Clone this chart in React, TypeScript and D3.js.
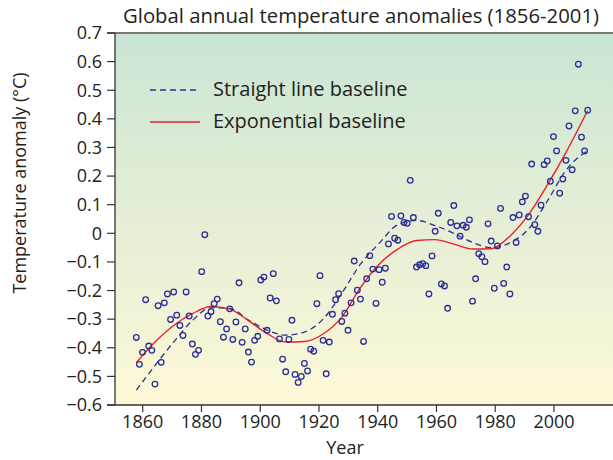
import { useEffect, useRef } from 'react'
import * as d3 from 'd3'

// annual global temperature anomalies, 1856-2001 (deg C)
const firstYear = 1856
const anomalies = [
  -0.364, -0.458, -0.416, -0.232, -0.394, -0.409, -0.527, -0.253, -0.451, -0.243,
  -0.212, -0.301, -0.205, -0.286, -0.322, -0.357, -0.205, -0.289, -0.387, -0.423,
  -0.409, -0.134, -0.005, -0.289, -0.274, -0.246, -0.230, -0.309, -0.363, -0.334,
  -0.264, -0.371, -0.310, -0.173, -0.381, -0.334, -0.415, -0.450, -0.374, -0.360,
  -0.163, -0.153, -0.339, -0.226, -0.141, -0.236, -0.369, -0.440, -0.484, -0.371,
  -0.304, -0.493, -0.521, -0.500, -0.455, -0.481, -0.405, -0.412, -0.246, -0.148,
  -0.374, -0.491, -0.380, -0.283, -0.232, -0.211, -0.308, -0.279, -0.339, -0.243,
  -0.097, -0.199, -0.230, -0.378, -0.159, -0.078, -0.125, -0.245, -0.127, -0.171,
  -0.122, -0.037, 0.059, -0.017, -0.024, 0.061, 0.038, 0.035, 0.185, 0.055,
  -0.118, -0.110, -0.106, -0.113, -0.212, -0.079, 0.007, 0.070, -0.177, -0.184,
  -0.262, 0.038, 0.097, 0.026, -0.010, 0.028, 0.021, 0.047, -0.237, -0.159,
  -0.071, -0.082, -0.099, 0.033, -0.027, -0.192, -0.044, 0.087, -0.175, -0.118,
  -0.212, 0.055, -0.032, 0.064, 0.110, 0.130, 0.058, 0.242, 0.030, 0.007,
  0.098, 0.240, 0.253, 0.182, 0.338, 0.288, 0.140, 0.190, 0.255, 0.375,
  0.222, 0.428, 0.591, 0.336, 0.288, 0.430,
]

const curveYears = [1856, 1862, 1868, 1874, 1880, 1886, 1892, 1898, 1904, 1910, 1916, 1922, 1928,
  1934, 1940, 1946, 1952, 1958, 1964, 1970, 1976, 1982, 1988, 1994, 2001]
const straightBaseline = [-0.548, -0.462, -0.380, -0.305, -0.260, -0.262, -0.303, -0.338, -0.356,
  -0.345, -0.300, -0.210, -0.108, -0.035, 0.030, 0.045, 0.027, 0.000, -0.032, -0.050, -0.033,
  0.015, 0.112, 0.220, 0.290]
const exponentialBaseline = [-0.452, -0.380, -0.322, -0.281, -0.256, -0.265, -0.305, -0.350, -0.380,
  -0.378, -0.352, -0.293, -0.190, -0.108, -0.055, -0.025, -0.022, -0.038, -0.055, -0.054, -0.010,
  0.065, 0.168, 0.282, 0.429]

const yTicks = [0.7, 0.6, 0.5, 0.4, 0.3, 0.2, 0.1, 0, -0.1, -0.2, -0.3, -0.4, -0.5, -0.6]
const xTicks = [1860, 1880, 1900, 1920, 1940, 1960, 1980, 2000]

const W = 613
const H = 460
const left = 115
const top = 33
const bottom = 405
const font = '"Open Sans", "DejaVu Sans", sans-serif'
const navy = '#2b2f95'

const fmt = (v: number) => (v === 0 ? '0' : (v < 0 ? '\u2212' : '') + Math.abs(v).toFixed(1))

const App = () => {
  const ref = useRef<SVGSVGElement>(null)

  useEffect(() => {
    const svg = d3.select(ref.current)
    svg.selectAll('*').remove()

    const y = d3.scaleLinear().domain([-0.6, 0.7]).range([bottom, top])
    const xAxis = d3.scaleLinear().domain([1860, 2000]).range([142.7, 554])
    // in the source figure the plotted series sit slightly stretched vs. the axis
    const x = d3.scaleLinear().domain([1856, 2001]).range([136.3, 587.7])

    const defs = svg.append('defs')
    const grad = defs.append('linearGradient')
      .attr('id', 'bg').attr('x1', 0).attr('y1', 0).attr('x2', 0).attr('y2', 1)
    grad.append('stop').attr('offset', '0%').attr('stop-color', '#cae5d4')
    grad.append('stop').attr('offset', '50%').attr('stop-color', '#e5eed6')
    grad.append('stop').attr('offset', '100%').attr('stop-color', '#fdf9d7')

    svg.append('rect')
      .attr('x', left).attr('y', top)
      .attr('width', W - left).attr('height', bottom - top)
      .attr('fill', 'url(#bg)')

    // axes frame
    svg.append('line')
      .attr('x1', left - 8).attr('x2', W).attr('y1', top).attr('y2', top)
      .attr('stroke', '#777').attr('stroke-width', 2)
    svg.append('line')
      .attr('x1', left).attr('x2', left).attr('y1', top).attr('y2', bottom)
      .attr('stroke', '#333').attr('stroke-width', 1.3)
    svg.append('line')
      .attr('x1', left - 8).attr('x2', W).attr('y1', bottom).attr('y2', bottom)
      .attr('stroke', '#333').attr('stroke-width', 1.3)

    const yt = svg.append('g')
    yt.selectAll('line').data(yTicks).enter().append('line')
      .attr('x1', left - 8).attr('x2', left)
      .attr('y1', d => y(d)).attr('y2', d => y(d))
      .attr('stroke', '#333').attr('stroke-width', 1.2)
    yt.selectAll('text').data(yTicks).enter().append('text')
      .attr('x', 102).attr('y', d => y(d)).attr('dy', '0.35em')
      .attr('text-anchor', 'end')
      .attr('font-family', font).attr('font-size', 18).attr('fill', '#222')
      .text(fmt)

    const xt = svg.append('g')
    xt.selectAll('line').data(xTicks).enter().append('line')
      .attr('x1', d => xAxis(d)).attr('x2', d => xAxis(d))
      .attr('y1', bottom).attr('y2', bottom + 7)
      .attr('stroke', '#333').attr('stroke-width', 1.2)
    xt.selectAll('text').data(xTicks).enter().append('text')
      .attr('x', d => xAxis(d)).attr('y', 428)
      .attr('text-anchor', 'middle')
      .attr('font-family', font).attr('font-size', 18).attr('fill', '#222')
      .text(d => d)

    svg.append('text')
      .attr('x', 345).attr('y', 454).attr('text-anchor', 'middle')
      .attr('font-family', font).attr('font-size', 18).attr('fill', '#222')
      .text('Year')

    svg.append('text')
      .attr('transform', 'translate(26,183) rotate(-90)')
      .attr('text-anchor', 'middle')
      .attr('font-family', font).attr('font-size', 18).attr('fill', '#222')
      .text('Temperature anomaly (\u00b0C)')

    svg.append('text')
      .attr('x', 361).attr('y', 23).attr('text-anchor', 'middle')
      .attr('font-family', font).attr('font-size', 20).attr('fill', '#222')
      .attr('textLength', 476).attr('lengthAdjust', 'spacingAndGlyphs')
      .text('Global annual temperature anomalies (1856-2001)')

    // baselines
    const line = d3.line<number>()
      .x((_, i) => x(curveYears[i]))
      .y(d => y(d))
      .curve(d3.curveMonotoneX)

    svg.append('path')
      .attr('d', line(straightBaseline))
      .attr('fill', 'none').attr('stroke', navy)
      .attr('stroke-width', 1.3).attr('stroke-dasharray', '6,4')

    svg.append('path')
      .attr('d', line(exponentialBaseline))
      .attr('fill', 'none').attr('stroke', '#e8202a').attr('stroke-width', 1.4)

    // annual points
    svg.append('g').selectAll('circle')
      .data(anomalies).enter().append('circle')
      .attr('cx', (_, i) => x(firstYear + i))
      .attr('cy', d => y(d))
      .attr('r', 2.8)
      .attr('fill', 'none').attr('stroke', navy).attr('stroke-width', 1.3)

    // legend
    const lg = svg.append('g')
    lg.append('line')
      .attr('x1', 150).attr('x2', 200).attr('y1', 90).attr('y2', 90)
      .attr('stroke', navy).attr('stroke-width', 1.3).attr('stroke-dasharray', '6,4')
    lg.append('line')
      .attr('x1', 150).attr('x2', 200).attr('y1', 122).attr('y2', 122)
      .attr('stroke', '#e8202a').attr('stroke-width', 1.4)
    lg.append('text')
      .attr('x', 213).attr('y', 89).attr('dy', '0.35em')
      .attr('font-family', font).attr('font-size', 20).attr('fill', '#222')
      .text('Straight line baseline')
    lg.append('text')
      .attr('x', 213).attr('y', 121).attr('dy', '0.35em')
      .attr('font-family', font).attr('font-size', 20).attr('fill', '#222')
      .text('Exponential baseline')
  }, [])

  return (
    <svg ref={ref} width={W} height={H}
      style={{ position: 'absolute', left: 0, top: 0, display: 'block' }} />
  )
}

export default App
